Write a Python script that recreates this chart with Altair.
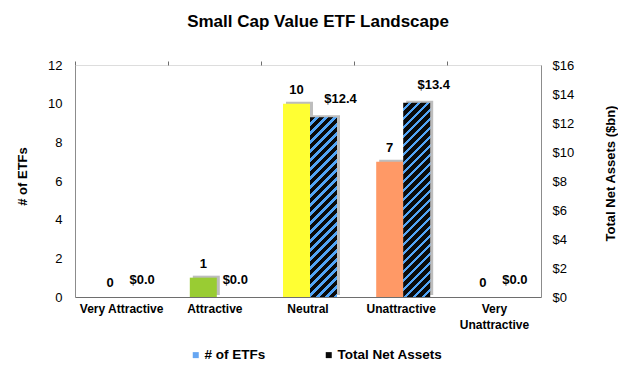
import altair as alt
import pandas as pd

categories = ["Very Attractive", "Attractive", "Neutral", "Unattractive", "Very Unattractive"]
num_etfs = [0, 1, 10, 7, 0]
net_assets = [0.0, 0.0, 12.4, 13.4, 0.0]
series_names = ["# of ETFs", "Total Net Assets"]
cat_colors = ["#2E8B2E", "#99CC33", "#FFFF33", "#FF9966", "#CC3333"]
left_ticks = [0, 2, 4, 6, 8, 10, 12]
right_ticks = [0, 2, 4, 6, 8, 10, 12, 14, 16]

FONT = "Liberation Sans"
W, H = 466, 232
BAR_W = 27.0
HALF = BAR_W / 2
SHIFT = 2
SH_DX, SH_DY = 3, 2
BLACK = "#0a0a0a"
BLUE = "#52A5F7"
SHADOW = "#bdbdbd"
LEFT_MAX = 12
RIGHT_MAX = 16

df_n = pd.DataFrame({"category": categories, "series": series_names[0], "value": num_etfs})
df_t = pd.DataFrame({"category": categories, "series": series_names[1], "value": net_assets})


def hatch(w, h, period=9.0, frac=0.42):
    s = (w + h) / (w * w + h * h)
    a, b = s * w, s * h
    n = (w + h) / period
    stops = []
    k = 0
    while k < n:
        o0 = round(k / n, 5)
        o1 = round(min((k + 1 - frac) / n, 1.0), 5)
        o2 = round(min((k + 1) / n, 1.0), 5)
        stops += [(o0, BLACK), (o1, BLACK), (o1, BLUE), (o2, BLUE)]
        k += 1
    return alt.LinearGradient(
        gradient="linear", x1=0, y1=0, x2=round(a, 5), y2=round(b, 5),
        stops=[alt.GradientStop(offset=o, color=c) for o, c in stops],
    )


x_scale = alt.Scale(domain=categories, paddingInner=0, paddingOuter=0)

x_left = alt.X(
    "category:N", sort=categories, scale=x_scale, title=None,
    axis=alt.Axis(
        ticks=False, domain=True, domainColor="#6e6e6e", labelAngle=0,
        labelFont=FONT, labelFontSize=12, labelFontWeight="bold", labelColor="#000",
        labelPadding=6, labelLineHeight=16,
        labelExpr="datum.label == 'Very Unattractive' ? ['Very', 'Unattractive'] : datum.label",
    ),
)
x_right = alt.X(
    "category:N", sort=categories, scale=x_scale, title=None,
    axis=alt.Axis(
        ticks=True, tickSize=4, tickColor="#6e6e6e", bandPosition=0, domain=False,
        labels=False,
    ),
)

y_left = alt.Y(
    "value:Q", scale=alt.Scale(domain=[0, LEFT_MAX]),
    axis=alt.Axis(
        values=left_ticks, ticks=False, grid=False, domainColor="#8c8c8c",
        labelFont=FONT, labelFontSize=13, labelColor="#000", labelPadding=13,
        title="# of ETFs", titleFont=FONT, titleFontSize=13, titleFontWeight="bold",
        titleColor="#000", titlePadding=18, titleY=111,
    ),
)
y_right = alt.Y(
    "value:Q", scale=alt.Scale(domain=[0, RIGHT_MAX]),
    axis=alt.Axis(
        orient="right", values=right_ticks, ticks=False, grid=False, domainColor="#8c8c8c",
        labelExpr="'$' + datum.value",
        labelFont=FONT, labelFontSize=13, labelColor="#000", labelPadding=11,
        title="Total Net Assets ($bn)", titleFont=FONT, titleFontSize=13,
        titleFontWeight="bold", titleColor="#000", titlePadding=44, titleAngle=270,
        titleY=108,
    ),
)

# Left group: number of ETFs
base_n = alt.Chart(df_n)
shadow_n = base_n.mark_bar(
    color=SHADOW, width=BAR_W, xOffset=-HALF + SHIFT + SH_DX, yOffset=-SH_DY, y2Offset=0
).encode(x=x_left, y=y_left)
bars_n = base_n.mark_bar(width=BAR_W, xOffset=-HALF + SHIFT).encode(
    x=x_left, y=y_left,
    color=alt.Color("category:N", scale=alt.Scale(domain=categories, range=cat_colors), legend=None),
)
text_n = base_n.mark_text(
    font=FONT, fontSize=13, fontWeight="bold", color="#000", baseline="alphabetic",
    xOffset=-HALF + SHIFT, dy=-10,
).encode(x=x_left, y=y_left, text=alt.Text("value:Q", format="d"))
left = alt.layer(shadow_n, bars_n, text_n)

# Right group: total net assets
base_t = alt.Chart(df_t)
shadow_t = base_t.mark_bar(
    color=SHADOW, width=BAR_W, xOffset=HALF + SHIFT + SH_DX, yOffset=-SH_DY, y2Offset=0
).encode(x=x_right, y=y_right)
tna_layers = []
for cat, v in zip(categories, net_assets):
    h = v / RIGHT_MAX * H
    if h <= 0:
        continue
    tna_layers.append(
        base_t.transform_filter(alt.datum.category == cat)
        .mark_bar(color=hatch(BAR_W, h), width=BAR_W, xOffset=HALF + SHIFT)
        .encode(x=x_right, y=y_right)
    )
text_style = dict(font=FONT, fontSize=13, fontWeight="bold", color="#000", baseline="alphabetic")
text_t_pos = base_t.transform_filter(alt.datum.value > 0).mark_text(
    **text_style, xOffset=HALF + SHIFT, dx=17, dy=-14
).encode(x=x_right, y=y_right, text=alt.Text("value:Q", format="$.1f"))
text_t_zero = base_t.transform_filter(alt.datum.value <= 0).mark_text(
    **text_style, xOffset=HALF + SHIFT, dx=5, dy=-13
).encode(x=x_right, y=y_right, text=alt.Text("value:Q", format="$.1f"))

legend_layer = alt.Chart(pd.concat([df_n, df_t])).mark_point(filled=True, opacity=0, size=1).encode(
    x=x_right, y=y_right,
    color=alt.Color(
        "series:N",
        scale=alt.Scale(domain=series_names, range=["#66A6F2", BLACK]),
        legend=alt.Legend(
            orient="none", legendX=114, legendY=283, direction="horizontal", title=None,
            symbolType="square", symbolSize=36, symbolOpacity=1, symbolStrokeWidth=0,
            labelFont=FONT, labelFontSize=13.5, labelFontWeight="bold", labelColor="#000",
            labelOffset=2, columnPadding=56,
        ),
    ),
)

right = alt.layer(shadow_t, *tna_layers, text_t_pos, text_t_zero, legend_layer)

chart = (
    alt.layer(left, right)
    .resolve_scale(y="independent", color="independent")
    .resolve_axis(x="independent")
    .properties(
        width=W, height=H, padding={"left": 8, "right": 0, "top": 5, "bottom": 5},
        title=alt.TitleParams(
            "Small Cap Value ETF Landscape", font=FONT, fontSize=17, fontWeight="bold",
            color="#000", anchor="middle", offset=28, dx=10,
        ),
    )
    .configure_view(stroke=None)
    .configure(background="white")
)

chart.save("out.html", embed_options={"renderer": "svg", "actions": False})
